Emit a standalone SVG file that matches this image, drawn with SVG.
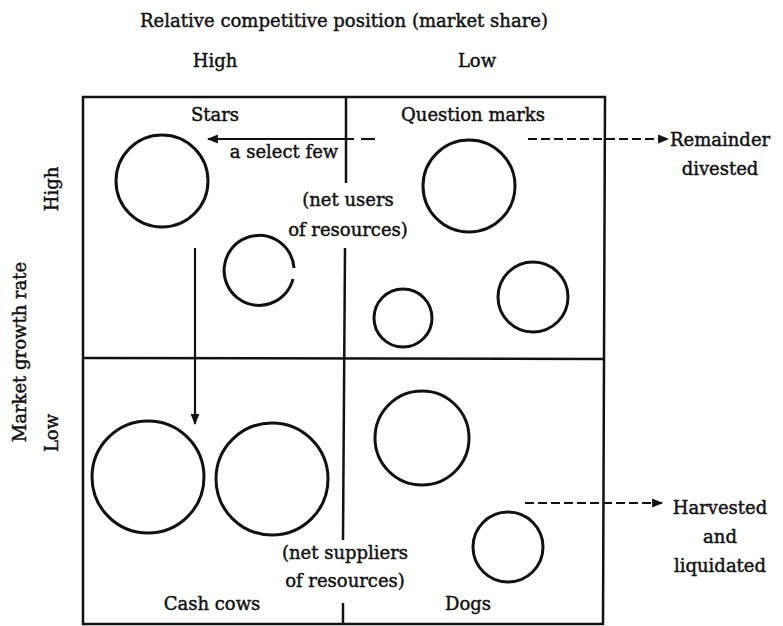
<svg xmlns="http://www.w3.org/2000/svg" width="783" height="626" viewBox="0 0 783 626">
<style>
text{font-family:"DejaVu Serif","Liberation Serif",serif;font-size:18px;fill:#111;stroke:#111;stroke-width:0.45}
.c{text-anchor:middle}
.frame{fill:none;stroke:#111;stroke-width:2.5}
.circ{fill:none;stroke:#111;stroke-width:3}
.ln{fill:none;stroke:#111;stroke-width:2.2}
.dash{fill:none;stroke:#111;stroke-width:2.2;stroke-dasharray:9 4}
</style>
<defs>
<marker id="ah" viewBox="0 0 10 10" refX="9" refY="5" markerWidth="6.5" markerHeight="5" orient="auto" markerUnits="strokeWidth">
<path d="M0,1 L10,5 L0,9 z" fill="#111"/>
</marker>
</defs>
<rect width="783" height="626" fill="#fff"/>
<g id="axes">
<text class="c" x="344" y="27" style="font-size:19px" textLength="408" lengthAdjust="spacingAndGlyphs">Relative competitive position (market share)</text>
<text class="c" x="215" y="67">High</text>
<text class="c" x="477" y="67">Low</text>
<text class="c" transform="translate(26,352) rotate(-90)">Market growth rate</text>
<text class="c" transform="translate(58,189) rotate(-90)">High</text>
<text class="c" transform="translate(58,433) rotate(-90)">Low</text>
</g>
<g id="grid">
<path class="frame" d="M83,97 L605,97 L603,624 L83,624 Z"/>
<path class="frame" d="M83,358 L603,359"/>
<path class="frame" d="M346,97 L346,183 M345,248 L343,540 M343,603 L343,624"/>
</g>
<g id="stars">
<text class="c" x="215" y="121">Stars</text>
<circle class="circ" cx="162" cy="181" r="46"/>
<path class="circ" d="M294,268 A35,35 0 1 0 293,279"/>
</g>
<g id="question-marks">
<text class="c" x="473" y="121">Question marks</text>
<circle class="circ" cx="469" cy="186" r="46"/>
<circle class="circ" cx="403" cy="318" r="29"/>
<circle class="circ" cx="533" cy="297" r="35"/>
</g>
<g id="cash-cows">
<text class="c" x="212" y="610">Cash cows</text>
<circle class="circ" cx="148" cy="477" r="56"/>
<circle class="circ" cx="272" cy="479" r="56"/>
</g>
<g id="dogs">
<text class="c" x="468" y="610">Dogs</text>
<circle class="circ" cx="422" cy="438" r="47"/>
<circle class="circ" cx="508" cy="547" r="35"/>
</g>
<g id="notes">
<text class="c" x="348" y="206">(net users</text>
<text class="c" x="348" y="236">of resources)</text>
<text class="c" x="345" y="559">(net suppliers</text>
<text class="c" x="345" y="587">of resources)</text>
<text class="c" x="284" y="158">a select few</text>
</g>
<g id="outcomes">
<text x="670" y="146">Remainder</text>
<text class="c" x="720" y="175">divested</text>
<text class="c" x="720" y="514">Harvested</text>
<text class="c" x="720" y="543">and</text>
<text class="c" x="720" y="572">liquidated</text>
</g>
<g id="connectors">
<path class="ln" d="M375,139 L361,139"/>
<path class="ln" d="M354,139 L208,139" marker-end="url(#ah)"/>
<path class="ln" d="M195,248 L195,424" marker-end="url(#ah)"/>
<path class="dash" d="M528,139 L668,139" marker-end="url(#ah)"/>
<path class="dash" d="M525,503 L662,503" marker-end="url(#ah)"/>
</g>
</svg>
